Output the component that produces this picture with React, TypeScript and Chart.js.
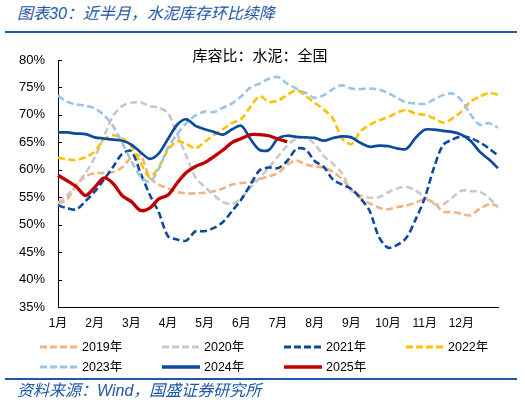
import { useEffect, useRef } from 'react';
import { Chart, registerables } from 'chart.js';

Chart.register(...registerables);

// ---- data (weekly-ish readings, 4 points per month, from 1月 to end of year) ----
const MONTHS = ['1月', '2月', '3月', '4月', '5月', '6月', '7月', '8月', '9月', '10月', '11月', '12月'];
const POINTS_PER_MONTH = 4;

const Y2019 = [53.8, 54.6, 57.2, 58.8, 59.4, 59.4, 59.6, 60.4, 62.2, 62.6, 58.6, 57.3, 56.6, 56.0, 55.7, 55.7, 55.8, 56.1, 56.6, 57.3, 57.6, 57.7, 58.3, 58.8, 59.4, 60.9, 61.7, 61.0, 60.6, 60.4, 59.6, 58.3, 56.5, 54.8, 53.9, 53.1, 52.8, 53.2, 53.5, 54.0, 54.6, 54.0, 52.4, 52.3, 52.0, 51.7, 52.9, 53.7, 53.4];
const Y2020 = [54.0, 55.3, 57.3, 59.4, 62.2, 66.0, 69.8, 71.6, 72.2, 72.3, 71.6, 71.3, 70.3, 66.6, 62.5, 58.6, 56.9, 55.4, 54.1, 53.8, 54.8, 56.8, 58.5, 60.4, 62.4, 64.4, 65.7, 65.9, 64.7, 62.5, 61.1, 59.3, 56.2, 55.3, 54.9, 55.0, 55.9, 56.6, 56.9, 56.2, 55.0, 53.8, 53.7, 54.9, 56.2, 56.1, 56.0, 54.9, 53.1];
const Y2021 = [53.5, 53.0, 52.8, 54.3, 56.0, 58.2, 60.5, 62.9, 63.4, 59.4, 55.5, 52.2, 47.9, 47.3, 47.1, 48.8, 48.8, 49.4, 50.5, 52.5, 54.6, 57.3, 59.9, 60.4, 60.3, 61.6, 63.8, 63.7, 61.6, 60.5, 58.2, 57.3, 56.5, 54.8, 52.5, 47.8, 45.8, 46.3, 47.6, 50.9, 54.8, 60.3, 64.5, 65.5, 66.1, 65.8, 65.0, 63.9, 62.6];
const Y2022 = [62.2, 61.9, 61.8, 62.3, 63.3, 65.5, 66.3, 65.7, 64.3, 61.3, 58.7, 60.5, 63.6, 65.2, 64.7, 63.9, 65.1, 66.3, 67.4, 68.5, 69.3, 71.5, 73.4, 72.4, 72.6, 73.6, 74.5, 73.5, 72.2, 71.0, 69.3, 65.7, 64.7, 67.0, 68.2, 69.0, 69.6, 70.4, 70.9, 70.2, 70.0, 69.4, 68.6, 69.3, 70.6, 72.4, 73.3, 74.0, 73.7];
const Y2023 = [73.5, 72.4, 71.9, 71.7, 71.2, 70.0, 68.0, 64.9, 61.6, 58.8, 57.8, 60.2, 64.0, 66.5, 68.5, 69.9, 70.6, 70.5, 71.3, 72.1, 73.4, 75.0, 75.7, 76.6, 76.9, 75.7, 74.8, 74.0, 73.1, 73.6, 74.7, 75.4, 74.8, 74.7, 74.8, 74.6, 74.0, 73.1, 72.3, 72.1, 72.0, 72.8, 73.6, 73.9, 72.7, 70.1, 68.2, 68.5, 67.7];
const Y2024 = [66.8, 66.8, 66.6, 66.5, 65.9, 65.7, 65.5, 65.3, 64.6, 63.2, 62.0, 63.0, 65.6, 68.2, 69.2, 68.0, 67.4, 66.9, 66.4, 67.4, 68.0, 65.6, 63.6, 63.6, 65.7, 66.2, 66.0, 65.9, 65.8, 65.3, 65.8, 66.1, 65.9, 64.9, 64.2, 64.4, 64.3, 63.9, 63.8, 65.8, 67.3, 67.3, 67.1, 66.9, 66.4, 65.3, 63.3, 61.9, 60.3];
const Y2025 = [59.0, 58.0, 56.9, 55.3, 56.8, 58.5, 57.5, 55.3, 54.2, 52.6, 53.0, 54.7, 55.4, 57.6, 59.5, 60.6, 61.3, 62.4, 63.6, 65.0, 65.7, 66.4, 66.4, 66.2, 65.6, 65.1, null, null, null, null, null, null, null, null, null, null, null, null, null, null, null, null, null, null, null, null, null, null, null];

const SERIES_NAMES = ['2019年', '2020年', '2021年', '2022年', '2023年', '2024年', '2025年'];
const SERIES_VALUES = [Y2019, Y2020, Y2021, Y2022, Y2023, Y2024, Y2025];

// ---- styles ----
const STYLES = [
  { color: '#F4B183', dashed: true, width: 2.6 },
  { color: '#C9C9C9', dashed: true, width: 2.6 },
  { color: '#0C4A9E', dashed: true, width: 2.6 },
  { color: '#FFC000', dashed: true, width: 2.6 },
  { color: '#9DC3E6', dashed: true, width: 2.6 },
  { color: '#0C4A9E', dashed: false, width: 2.7 },
  { color: '#C00000', dashed: false, width: 3.3 },
];

const BLUE = '#1D57A6';
const LATIN = "'Liberation Sans', 'Noto Sans CJK SC', sans-serif";
const CJK = "'Liberation Sans', 'Noto Sans CJK SC', sans-serif";

const CATEGORY_LABELS: string[] = [];
MONTHS.forEach((m) => {
  for (let w = 0; w < POINTS_PER_MONTH; w++) CATEGORY_LABELS.push(w === 0 ? m : '');
});
CATEGORY_LABELS.push('');

const innerTicks = {
  id: 'innerTicks',
  beforeDatasetsDraw(chart: any) {
    const y = chart.scales.y;
    const ctx = chart.ctx;
    ctx.save();
    ctx.strokeStyle = '#000';
    ctx.lineWidth = 1;
    y.ticks.forEach((t: any) => {
      const py = Math.round(y.getPixelForValue(t.value)) + 0.5;
      ctx.beginPath();
      ctx.moveTo(y.right, py);
      ctx.lineTo(y.right + 4, py);
      ctx.stroke();
    });
    ctx.restore();
  },
};

function ChartCanvas() {
  const ref = useRef<HTMLCanvasElement | null>(null);
  useEffect(() => {
    if (!ref.current) return;
    Chart.defaults.font.family = LATIN;
    const chart = new Chart(ref.current, {
      type: 'line',
      data: {
        labels: CATEGORY_LABELS,
        datasets: SERIES_NAMES.map((name, i) => ({
          label: name,
          data: SERIES_VALUES[i],
          borderColor: STYLES[i].color,
          backgroundColor: STYLES[i].color,
          borderWidth: STYLES[i].width,
          borderDash: STYLES[i].dashed ? [7, 3.5] : [],
          pointRadius: 0,
          tension: 0.3,
          fill: false,
          spanGaps: false,
          order: SERIES_NAMES.length - 1 - i,
        })),
      },
      options: {
        animation: false,
        responsive: true,
        maintainAspectRatio: false,
        layout: { padding: { left: 0, top: 60, right: 27, bottom: 67 } },
        plugins: {
          legend: { display: false },
          title: { display: false },
          tooltip: { enabled: false },
        },
        scales: {
          x: {
            type: 'category',
            offset: false,
            grid: { display: true, drawOnChartArea: false, drawTicks: false },
            border: { display: true, color: '#000', width: 1 },
            ticks: {
              autoSkip: false,
              maxRotation: 0,
              minRotation: 0,
              padding: 9,
              color: '#000',
              font: { size: 12, family: CJK },
            },
            afterFit: (s: any) => {
              s.height = 30;
            },
          },
          y: {
            type: 'linear',
            min: 35,
            max: 80,
            grid: { display: true, drawOnChartArea: false, drawTicks: false },
            border: { display: true, color: '#000', width: 1 },
            ticks: {
              stepSize: 5,
              padding: 13,
              color: '#000',
              font: { size: 13, family: LATIN },
              callback: (v: any) => `${v}%`,
            },
            afterFit: (s: any) => {
              s.width = 58;
            },
          },
        },
      },
      plugins: [innerTicks],
    });
    return () => chart.destroy();
  }, []);
  return <canvas ref={ref} />;
}

export default function App() {
  const abs = (o: any) => ({ position: 'absolute' as const, ...o });
  return (
    <div style={abs({ left: 0, top: 0, width: 525, height: 404, background: '#fff', overflow: 'hidden' })}>
      <div
        style={abs({
          left: 17,
          top: 6,
          height: 16,
          lineHeight: '16px',
          fontSize: 16,
          fontStyle: 'italic',
          fontFamily: CJK,
          color: BLUE,
          whiteSpace: 'nowrap',
        })}
      >
        图表30：近半月，水泥库存环比续降
      </div>
      <div style={abs({ left: 5, top: 31, width: 512, height: 2, background: BLUE })} />
      <div style={abs({ left: 0, top: 0, width: 525, height: 404 })}>
        <ChartCanvas />
      </div>
      <div
        style={abs({
          left: 160,
          width: 200,
          top: 47,
          height: 15,
          lineHeight: '15px',
          fontSize: 15,
          fontFamily: "'Noto Sans CJK SC', sans-serif",
          color: '#000',
          textAlign: 'center',
          whiteSpace: 'nowrap',
        })}
      >
        库容比：水泥：全国
      </div>
      {SERIES_NAMES.map((name, i) => {
        const col = i % 4;
        const row = Math.floor(i / 4);
        const left = 40 + col * 122;
        const cy = row === 0 ? 347 : 367;
        const st = STYLES[i];
        return (
          <div key={name}>
            <svg style={abs({ left, top: cy - 4 })} width={38} height={8}>
              <line
                x1={0}
                y1={4}
                x2={38}
                y2={4}
                stroke={st.color}
                strokeWidth={st.dashed ? 3 : 3.6}
                strokeDasharray={st.dashed ? '7 3' : undefined}
              />
            </svg>
            <div
              style={abs({
                left: left + 42,
                top: cy - 6.5,
                height: 13,
                lineHeight: '13px',
                fontSize: 12.5,
                fontFamily: LATIN,
                color: '#000',
                whiteSpace: 'nowrap',
              })}
            >
              {name}
            </div>
          </div>
        );
      })}
      <div style={abs({ left: 5, top: 378, width: 512, height: 2, background: BLUE })} />
      <div
        style={abs({
          left: 17,
          top: 383,
          height: 16,
          lineHeight: '16px',
          fontSize: 16,
          fontStyle: 'italic',
          fontFamily: CJK,
          color: BLUE,
          whiteSpace: 'nowrap',
        })}
      >
        资料来源：Wind，国盛证券研究所
      </div>
    </div>
  );
}
